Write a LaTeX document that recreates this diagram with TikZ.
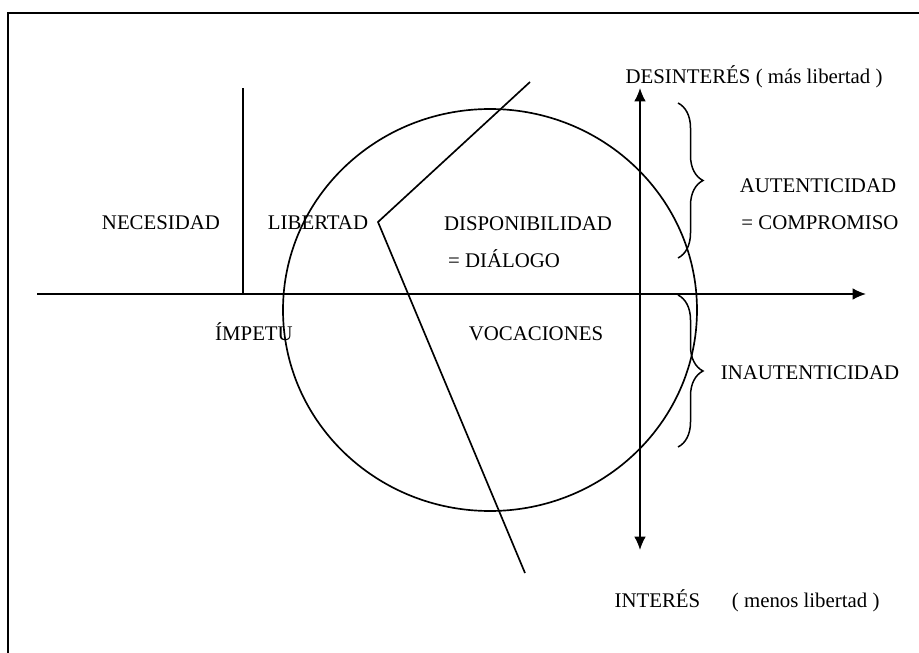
\documentclass[tikz,border=0pt]{standalone}
\usepackage{fontspec}
\setmainfont{Liberation Serif}
\usetikzlibrary{arrows.meta, decorations.pathreplacing}
\tikzstyle{word} = [inner sep=0pt, anchor=base, font=\fontsize{12.5}{15}\selectfont]
\tikzstyle{line} = [line width=1pt]
\tikzstyle{frame} = [line width=0.8pt]
\tikzstyle{arrow} = [line width=1pt, -{Latex[length=8pt,width=7pt]}]
\tikzstyle{twoway} = [line width=1pt, {Latex[length=8pt,width=7pt]}-{Latex[length=8pt,width=7pt]}]
\tikzstyle{bracket} = [line width=0.9pt, decorate, decoration={brace, amplitude=15pt}]
\begin{document}
\begin{tikzpicture}[x=0.6pt, y=-0.6pt]
        \useasboundingbox (0,0) rectangle (919,653);
        \draw [frame] (8,653) -- (8,13) -- (919,13);
        % axes
        \coordinate (axisL) at (37,294);
        \coordinate (axisR) at (866,294);
        \coordinate (up) at (640,88);
        \coordinate (down) at (640,550);
        \coordinate (wallTop) at (243,88);
        \coordinate (wallFoot) at (243,294);
        \coordinate (kneeTop) at (530,82);
        \coordinate (knee) at (378,222);
        \coordinate (kneeFoot) at (525,573);
        \draw [arrow] (axisL) -- (axisR);
        \draw [twoway] (down) -- (up);
        \draw [line] (wallTop) -- (wallFoot);
        \draw [line] (kneeTop) -- (knee) -- (kneeFoot);
        \draw [line] (490,310) ellipse [x radius=207, y radius=201];
        % braces
        \coordinate (authTop) at (678,103);
        \coordinate (authFoot) at (678,258);
        \coordinate (inauthTop) at (678,295);
        \coordinate (inauthFoot) at (678,447);
        \draw [bracket] (authTop) -- (authFoot);
        \draw [bracket] (inauthTop) -- (inauthFoot);
        % texts
        \node [word] at (754,83) (desint) {DESINTERÉS ( más libertad )};
        \node [word] at (747,607) (inter) {INTERÉS\hspace{19pt}( menos libertad )};
        \node [word] at (161,229) (nec) {NECESIDAD};
        \node [word] at (318,229) (lib) {LIBERTAD};
        \node [word] at (528,230) (disp) {DISPONIBILIDAD};
        \node [word] at (504,267) (dial) {= DIÁLOGO};
        \node [word] at (818,192) (auth) {AUTENTICIDAD};
        \node [word] at (820,229) (comp) {= COMPROMISO};
        \node [word] at (254,340) (imp) {ÍMPETU};
        \node [word] at (536,340) (voc) {VOCACIONES};
        \node [word] at (810,379) (inauth) {INAUTENTICIDAD};
\end{tikzpicture}
\end{document}
